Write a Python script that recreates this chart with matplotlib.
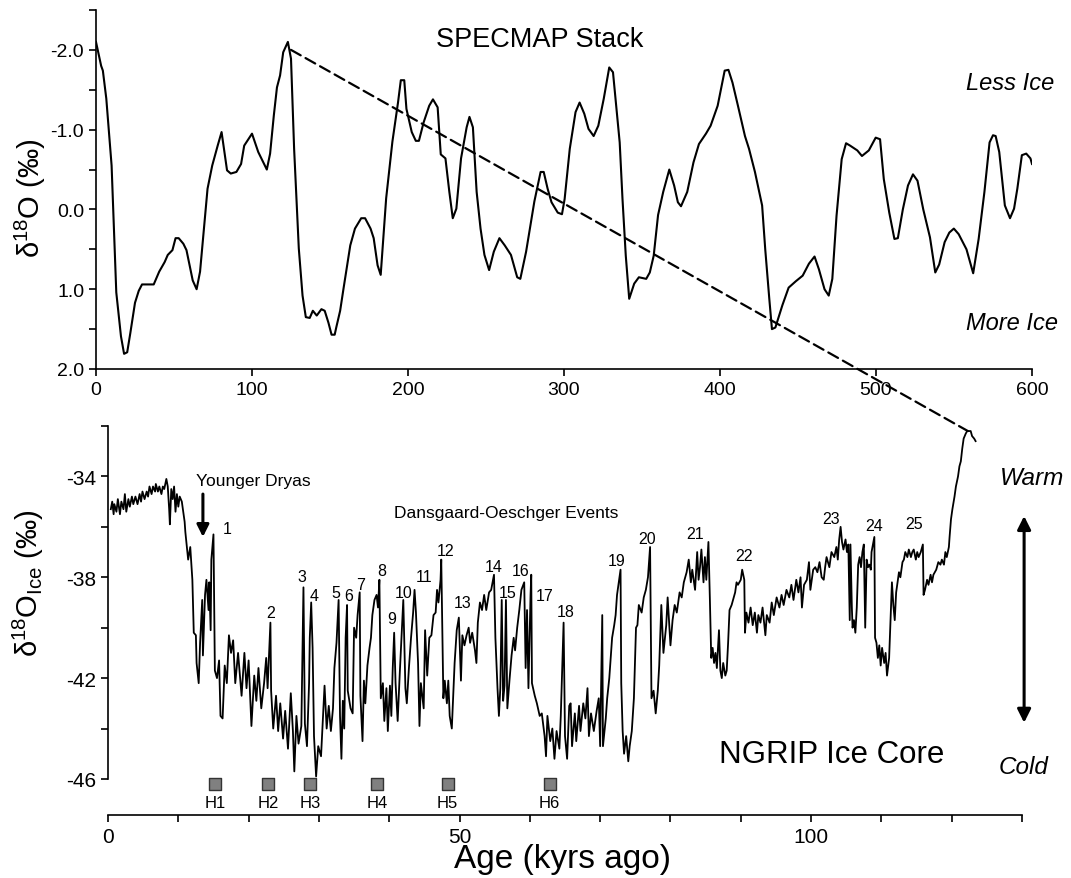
import matplotlib
matplotlib.use('Agg')
import matplotlib.pyplot as plt
from matplotlib.patches import ConnectionPatch
from matplotlib.ticker import FixedLocator, FormatStrFormatter

plt.rcParams['font.family'] = ['Liberation Sans', 'DejaVu Sans']
plt.rcParams['mathtext.fontset'] = 'custom'
plt.rcParams['mathtext.rm'] = 'Liberation Sans'
plt.rcParams['mathtext.it'] = 'Liberation Sans:italic'
plt.rcParams['mathtext.bf'] = 'Liberation Sans:bold'
plt.rcParams['axes.unicode_minus'] = False

# SPECMAP stack (kyr, d18O permil)
spec_age = [0, 3.3, 4.4, 6.6, 10, 13, 16, 18, 20, 22, 25, 27.4, 29.5, 37, 40.5, 44, 46, 49, 51, 53,
            56, 58, 62, 64.5, 66.7, 69, 71.5, 74.5, 78, 80.5, 84, 86.4, 90, 93, 95, 100, 104, 109.5,
            111.6, 114, 116, 118, 120, 123, 125, 127, 130, 132.4, 134.5, 137, 139, 141.5, 144.5,
            146.6, 149, 151, 153, 154, 156.5, 158.6, 163, 166, 170, 172.5, 176, 178, 180.5, 182.5,
            186, 190, 193.6, 195.4, 197.6, 199, 202.4, 205, 207, 210, 213.6, 216, 219, 221, 224,
            226.5, 228.7, 231, 234, 237.6, 239.4, 241.6, 244, 246.5, 249, 252, 255, 258.6, 262, 266,
            270, 272, 275.7, 281, 285, 287, 289.5, 292, 296, 298.7, 300.4, 303.7, 307.4, 310, 313,
            315.7, 319, 322, 325.5, 329, 331.4, 333, 335.7, 337.5, 339.6, 341.8, 345, 348, 352.7,
            355, 357.5, 360.3, 363.6, 367.5, 370.6, 373, 375, 379, 383, 386.5, 391, 394, 398.5, 403,
            405.4, 408, 411.5, 416, 418.6, 422.4, 427, 429, 431.6, 433.3, 435.5, 440, 444, 448.6,
            453, 457, 460.6, 463.4, 467, 469.7, 472, 474.7, 478, 480.8, 483.4, 488, 491, 495.4,
            499.8, 502.6, 505, 508.5, 511.8, 514, 517.2, 520.5, 523.7, 526.6, 530.3, 534.6, 538,
            540.5, 544, 547, 549.9, 553, 558, 562.3, 565.8, 569.5, 572.8, 575, 576.7, 579, 582.6,
            585.9, 588.5, 590.6, 593.5, 596.3, 599, 600]
spec_d18o = [-2.1, -1.8, -1.74, -1.39, -0.55, 1.04, 1.59, 1.81, 1.79, 1.55, 1.17, 1.02, 0.94, 0.94,
             0.78, 0.66, 0.57, 0.51, 0.36, 0.36, 0.43, 0.51, 0.89, 1.0, 0.78, 0.28, -0.26, -0.55,
             -0.8, -0.97, -0.49, -0.45, -0.47, -0.57, -0.8, -0.95, -0.72, -0.5, -0.7, -1.18, -1.53,
             -1.68, -1.97, -2.1, -1.89, -0.76, 0.49, 1.08, 1.35, 1.36, 1.27, 1.33, 1.25, 1.27, 1.42,
             1.57, 1.57, 1.48, 1.27, 1.0, 0.45, 0.24, 0.11, 0.11, 0.24, 0.36, 0.7, 0.82, -0.14,
             -0.85, -1.34, -1.62, -1.62, -1.26, -0.97, -0.86, -0.86, -1.09, -1.3, -1.38, -1.28,
             -0.69, -0.64, -0.22, 0.11, -0.01, -0.64, -1.03, -1.16, -1.03, -0.22, 0.24, 0.57, 0.76,
             0.53, 0.36, 0.45, 0.57, 0.85, 0.87, 0.53, -0.1, -0.47, -0.47, -0.26, -0.09, 0.04, 0.06,
             -0.13, -0.76, -1.22, -1.34, -1.2, -1.01, -0.92, -1.05, -1.39, -1.78, -1.72, -1.39,
             -0.84, -0.13, 0.58, 1.12, 0.93, 0.85, 0.87, 0.79, 0.58, 0.07, -0.22, -0.5, -0.3, -0.09,
             -0.04, -0.22, -0.59, -0.82, -0.95, -1.05, -1.3, -1.74, -1.75, -1.59, -1.3, -0.92,
             -0.76, -0.47, -0.05, 0.5, 1.12, 1.5, 1.48, 1.2, 0.98, 0.9, 0.83, 0.68, 0.59, 0.75, 1.0,
             1.08, 0.87, 0.08, -0.63, -0.83, -0.8, -0.74, -0.67, -0.74, -0.9, -0.88, -0.38, 0.04,
             0.37, 0.36, 0.0, -0.3, -0.44, -0.36, 0.0, 0.35, 0.79, 0.69, 0.41, 0.29, 0.24, 0.31,
             0.5, 0.8, 0.37, -0.22, -0.84, -0.93, -0.92, -0.72, -0.05, 0.11, -0.01, -0.26, -0.68,
             -0.7, -0.64, -0.57]

# NGRIP ice core (kyr, d18O permil)
ngrip_age = [0.4, 0.6, 0.8, 0.9, 1.2, 1.4, 1.7, 1.9, 2.2, 2.4, 2.6, 2.9, 3.1, 3.4, 3.6, 3.9, 4.2, 4.5,
             4.7, 4.9, 5.2, 5.5, 5.7, 5.9, 6.2, 6.4, 6.7, 6.8, 7.1, 7.3, 7.6, 7.8, 8.0, 8.3, 8.5, 8.7,
             8.8, 9.0, 9.2, 9.4, 9.6, 9.8, 10.0, 10.2, 10.5, 10.7, 10.9, 11.0, 11.4, 11.7, 12.0, 12.2,
             12.5, 12.6, 12.9, 13.1, 13.4, 13.5, 13.8, 14.0, 14.3, 14.4, 14.6, 14.7, 15.0, 15.2, 15.5,
             15.8, 16.0, 16.3, 16.6, 16.9, 17.2, 17.5, 17.8, 18.1, 18.5, 19.0, 19.4, 19.7, 20.0, 20.4,
             20.8, 21.1, 21.4, 21.8, 22.2, 22.5, 22.7, 23.1, 23.2, 23.5, 23.9, 24.2, 24.5, 24.9, 25.2,
             25.6, 26.0, 26.3, 26.5, 26.8, 27.1, 27.5, 27.8, 28.0, 28.3, 28.6, 28.7, 28.9, 29.1, 29.3,
             29.6, 29.9, 30.3, 30.8, 31.1, 31.4, 31.7, 32.0, 32.2, 32.5, 32.8, 33.0, 33.2, 33.4, 33.6,
             33.8, 34.0, 34.1, 34.5, 34.8, 35.0, 35.3, 35.5, 35.8, 35.9, 36.2, 36.4, 36.6, 36.9, 37.2,
             37.4, 37.6, 37.9, 38.2, 38.4, 38.6, 38.8, 39.1, 39.3, 39.6, 39.8, 40.1, 40.3, 40.5, 40.7,
             40.9, 41.2, 41.5, 41.8, 42.0, 42.3, 42.5, 42.8, 43.1, 43.4, 43.6, 43.8, 44.1, 44.3, 44.5,
             44.9, 45.1, 45.4, 45.7, 46.0, 46.3, 46.6, 46.8, 47.0, 47.3, 47.4, 47.7, 47.9, 48.2, 48.4,
             48.6, 48.9, 49.1, 49.3, 49.6, 49.9, 50.2, 50.4, 50.7, 51.0, 51.3, 51.5, 51.8, 52.2, 52.4,
             52.6, 52.9, 53.2, 53.5, 53.8, 54.2, 54.5, 54.9, 55.1, 55.4, 55.6, 55.8, 56.0, 56.2, 56.4,
             56.6, 56.8, 57.1, 57.4, 57.7, 57.9, 58.2, 58.5, 58.8, 59.2, 59.4, 59.6, 59.8, 60.1, 60.2,
             60.3, 60.7, 61.0, 61.4, 61.7, 62.1, 62.3, 62.5, 62.9, 63.2, 63.5, 63.8, 64.2, 64.4, 64.8,
             65.0, 65.3, 65.6, 65.8, 66.0, 66.4, 66.6, 67.0, 67.2, 67.6, 67.9, 68.2, 68.4, 68.7, 69.1,
             69.5, 69.8, 70.0, 70.3, 70.4, 70.8, 71.0, 71.3, 71.5, 71.7, 72.0, 72.2, 72.4, 72.6, 72.9,
             73.0, 73.2, 73.4, 73.7, 74.0, 74.2, 74.5, 74.8, 75.1, 75.3, 75.5, 75.9, 76.2, 76.5, 76.8,
             77.1, 77.3, 77.6, 77.9, 78.2, 78.4, 78.7, 79.0, 79.4, 79.6, 80.0, 80.3, 80.6, 80.9, 81.3,
             81.6, 81.9, 82.3, 82.6, 82.9, 83.1, 83.5, 83.8, 84.0, 84.2, 84.4, 84.7, 84.9, 85.1, 85.4,
             85.6, 85.8, 86.0, 86.2, 86.4, 86.6, 86.9, 87.1, 87.3, 87.5, 87.8, 88.0, 88.2, 88.4, 88.7,
             88.9, 89.2, 89.4, 89.6, 90.0, 90.2, 90.5, 90.6, 90.8, 91.1, 91.4, 91.7, 92.0, 92.3, 92.5,
             92.8, 93.1, 93.5, 93.7, 94.1, 94.4, 94.7, 95.1, 95.5, 95.8, 96.1, 96.5, 96.9, 97.2, 97.5,
             97.9, 98.2, 98.5, 98.7, 99.0, 99.4, 99.7, 99.9, 100.3, 100.6, 100.9, 101.2, 101.5, 101.8,
             102.0, 102.2, 102.6, 102.9, 103.3, 103.6, 103.8, 104.0, 104.2, 104.4, 104.6, 104.9,
             105.1, 105.3, 105.5, 105.6, 105.8, 105.9, 106.1, 106.3, 106.5, 106.7, 106.9, 107.1,
             107.3, 107.5, 107.7, 107.9, 108.1, 108.3, 108.5, 108.6, 108.8, 109.0, 109.1, 109.3,
             109.5, 109.7, 109.9, 110.1, 110.4, 110.6, 110.8, 111.1, 111.3, 111.5, 111.7, 111.9,
             112.1, 112.3, 112.5, 112.7, 113.0, 113.2, 113.4, 113.7, 113.9, 114.2, 114.4, 114.6,
             114.9, 115.1, 115.3, 115.6, 115.9, 116.0, 116.2, 116.5, 116.7, 117.0, 117.2, 117.4,
             117.8, 118.1, 118.4, 118.6, 118.9, 119.1, 119.3, 119.6, 119.7, 119.9, 120.1, 120.4,
             120.6, 120.9, 121.1, 121.3, 121.5, 121.7, 122.0, 122.2, 122.5, 122.7, 122.9, 123.2, 123.4]
ngrip_d18o = [-35.3, -35.0, -35.5, -35.1, -35.4, -34.9, -35.5, -35.0, -35.3, -34.7, -35.4, -34.9, -35.2,
              -34.8, -35.1, -34.8, -35.1, -34.7, -35.0, -34.6, -34.9, -34.6, -34.8, -34.4, -34.7, -34.4,
              -34.6, -34.3, -34.6, -34.4, -34.7, -34.4, -34.5, -34.1, -34.4, -35.3, -35.9, -34.5, -34.9,
              -34.4, -35.4, -34.7, -35.2, -34.8, -35.0, -35.4, -35.8, -36.2, -37.3, -36.8, -38.1, -40.2,
              -40.3, -41.4, -42.2, -40.6, -38.9, -41.1, -38.7, -38.1, -39.3, -38.2, -40.1, -37.3, -36.3,
              -41.7, -42.0, -41.3, -43.5, -43.6, -41.5, -42.2, -40.3, -41.0, -40.5, -42.2, -41.0, -42.7,
              -41.0, -42.4, -41.3, -43.9, -41.9, -42.9, -41.6, -43.2, -42.2, -41.2, -42.4, -39.8, -42.5,
              -44.0, -42.7, -44.1, -43.0, -44.4, -43.3, -44.8, -42.6, -44.1, -45.7, -43.5, -44.6, -43.9,
              -38.4, -43.8, -44.7, -42.2, -40.4, -39.0, -40.8, -44.3, -45.9, -44.7, -45.1, -42.3, -44.0,
              -43.1, -44.1, -43.2, -41.6, -40.6, -38.9, -43.5, -45.2, -42.9, -44.0, -40.4, -39.1, -42.5,
              -43.2, -43.4, -40.0, -40.4, -39.5, -38.6, -42.7, -44.5, -42.1, -43.0, -41.5, -40.8, -40.4,
              -39.5, -38.9, -38.7, -39.2, -38.1, -42.8, -42.2, -43.7, -42.4, -44.1, -42.3, -43.5, -41.6,
              -40.2, -42.2, -43.7, -41.8, -40.1, -38.9, -42.4, -43.0, -41.6, -40.4, -39.4, -38.5, -39.4,
              -41.4, -43.9, -42.2, -43.2, -40.1, -41.9, -40.4, -40.3, -39.5, -39.4, -38.5, -39.0, -38.1,
              -37.3, -42.8, -42.1, -43.0, -42.1, -43.5, -44.0, -42.7, -41.4, -40.1, -39.6, -42.1, -40.3,
              -40.7, -40.3, -40.0, -40.6, -40.2, -40.9, -41.4, -39.8, -39.0, -39.3, -38.7, -39.3, -38.6,
              -38.5, -37.9, -40.4, -42.4, -43.5, -42.4, -38.9, -42.9, -42.3, -38.9, -43.2, -42.1, -41.1,
              -40.4, -40.9, -40.0, -39.3, -38.5, -38.2, -41.6, -39.3, -42.4, -38.7, -37.9, -42.2, -42.7,
              -43.0, -43.5, -43.4, -44.3, -45.1, -43.5, -44.5, -44.0, -45.2, -44.1, -44.8, -43.5, -39.8,
              -44.3, -45.2, -43.1, -43.0, -44.7, -43.4, -44.5, -43.1, -44.1, -43.0, -43.6, -42.4, -44.3,
              -43.4, -44.1, -43.3, -42.8, -44.7, -39.5, -44.7, -43.6, -42.8, -42.0, -41.2, -40.4, -39.9,
              -39.5, -38.7, -38.3, -37.7, -42.2, -44.1, -45.0, -44.3, -45.3, -44.7, -44.1, -42.8, -40.0,
              -39.9, -39.1, -39.4, -38.8, -38.5, -38.0, -36.8, -42.8, -42.5, -43.4, -42.5, -41.5, -39.1,
              -41.0, -39.9, -38.8, -40.7, -39.7, -39.1, -39.4, -38.6, -38.8, -38.2, -37.8, -37.3, -38.2,
              -37.7, -38.5, -37.0, -38.1, -37.6, -36.9, -38.2, -37.2, -38.1, -36.6, -38.8, -41.2, -40.8,
              -41.4, -41.0, -41.6, -40.1, -41.7, -42.0, -41.4, -41.9, -41.7, -40.6, -39.3, -39.1, -38.9,
              -38.6, -38.2, -38.3, -38.1, -37.7, -38.1, -40.2, -39.4, -39.8, -39.2, -39.9, -39.4, -40.2,
              -39.5, -39.8, -39.2, -40.3, -39.5, -39.8, -39.0, -39.5, -38.8, -39.2, -38.7, -39.1, -38.5,
              -38.8, -38.3, -38.9, -38.1, -38.6, -38.0, -39.2, -38.3, -38.1, -37.4, -38.5, -37.7, -37.6,
              -37.8, -37.4, -38.0, -38.1, -37.6, -37.2, -37.6, -37.0, -37.2, -36.8, -37.3, -36.5, -36.0,
              -36.6, -36.9, -36.5, -37.0, -36.7, -39.7, -36.7, -39.2, -40.0, -39.7, -40.2, -39.2, -37.5,
              -37.2, -37.6, -37.0, -36.7, -40.0, -37.3, -37.6, -37.5, -37.7, -37.0, -36.7, -36.4, -40.4,
              -40.6, -41.2, -40.7, -41.5, -40.8, -41.4, -41.0, -41.9, -41.2, -39.7, -38.2, -39.1, -39.7,
              -38.6, -38.2, -37.8, -38.0, -37.4, -37.3, -37.0, -37.2, -36.9, -37.2, -37.0, -36.9, -37.3,
              -37.0, -37.2, -37.0, -36.7, -38.7, -38.5, -38.1, -38.3, -37.9, -38.2, -37.9, -37.7, -37.4,
              -37.5, -37.3, -37.5, -37.0, -37.2, -36.8, -36.4, -35.7, -35.3, -34.8, -34.4, -34.0, -33.6,
              -33.4, -32.9, -32.5, -32.3, -32.2, -32.2, -32.2, -32.4, -32.5, -32.6]

# Dansgaard-Oeschger event numbers and where their labels sit
do_names = [str(i) for i in range(1, 26)]
do_label_age = [17.0, 23.1, 27.6, 29.3, 32.4, 34.2, 35.9, 38.9, 40.4, 42.0, 45.0, 48.0, 50.4, 54.9,
                56.9, 58.7, 62.1, 65.1, 72.3, 76.7, 83.5, 90.4, 102.9, 108.9, 114.6]
do_label_d18o = [-36.06, -39.4, -37.96, -38.73, -38.6, -38.73, -38.27, -37.74, -39.62, -38.6, -37.96,
                 -36.95, -39.02, -37.56, -38.6, -37.74, -38.73, -39.36, -37.34, -36.48, -36.28, -37.14,
                 -35.66, -35.96, -35.85]

# Heinrich events
h_names = ['H1', 'H2', 'H3', 'H4', 'H5', 'H6']
h_age = [15.2, 22.8, 28.7, 38.3, 48.3, 62.8]

W, H = 1071, 879


def px_box(l, t, r, b):
    return [l / W, 1 - b / H, (r - l) / W, (b - t) / H]


fig = plt.figure(figsize=(W / 100, H / 100), dpi=100)

# ---- top panel: SPECMAP
ax1 = fig.add_axes(px_box(96, 11, 1032, 370))
ax1.plot(spec_age, spec_d18o, color='black', lw=1.5)
ax1.set_xlim(0, 600)
ax1.set_ylim(2.0, -2.5)
ax1.xaxis.set_major_locator(FixedLocator([0, 100, 200, 300, 400, 500, 600]))
ax1.yaxis.set_major_locator(FixedLocator([-2, -1, 0, 1, 2]))
ax1.yaxis.set_minor_locator(FixedLocator([-2.5, -1.5, -0.5, 0.5, 1.5]))
ax1.yaxis.set_major_formatter(FormatStrFormatter('%.1f'))
for s in ['top', 'right']:
    ax1.spines[s].set_visible(False)
for s in ['left', 'bottom']:
    ax1.spines[s].set_linewidth(1.2)
ax1.tick_params(which='both', direction='out', length=5, width=1.2, labelsize=14)
fig.text(540 / W, 1 - 40 / H, 'SPECMAP Stack', ha='center', va='center', fontsize=19.5)
fig.text(1010 / W, 1 - 83 / H, 'Less Ice', ha='center', va='center', fontsize=17, style='italic')
fig.text(1012 / W, 1 - 323 / H, 'More Ice', ha='center', va='center', fontsize=17, style='italic')
fig.text(30 / W, 1 - 198 / H, 'δ$^{18}$O (‰)', rotation=90, ha='center', va='center', fontsize=21)

# ---- bottom panel: NGRIP
ax2 = fig.add_axes(px_box(108, 427, 1022, 816))
ax2.plot(ngrip_age, ngrip_d18o, color='black', lw=1.3)
ax2.set_xlim(0, 130)
ax2.set_ylim(-47.43, -32)
ax2.spines['left'].set_bounds(-46, -32)
ax2.spines['bottom'].set_bounds(0, 130)
for s in ['top', 'right']:
    ax2.spines[s].set_visible(False)
for s in ['left', 'bottom']:
    ax2.spines[s].set_linewidth(1.2)
ax2.xaxis.set_major_locator(FixedLocator([0, 50, 100]))
ax2.xaxis.set_minor_locator(FixedLocator([10, 20, 30, 40, 60, 70, 80, 90, 110, 120, 130]))
ax2.yaxis.set_major_locator(FixedLocator([-46, -42, -38, -34]))
ax2.yaxis.set_minor_locator(FixedLocator([-44, -40, -36, -32]))
ax2.tick_params(which='both', direction='out', length=5, width=1.2, labelsize=15)

# Heinrich events as grey squares under the record
ax2.scatter(h_age, [-46.2] * len(h_age), marker='s', s=65, facecolor='#808080', edgecolor='#333333',
            linewidth=1, clip_on=False, zorder=3)
for name, a in zip(h_names, h_age):
    ax2.text(a, -46.93, name, ha='center', va='center', fontsize=12)

for name, a, v in zip(do_names, do_label_age, do_label_d18o):
    ax2.text(a, v, name, ha='center', va='center', fontsize=11.5)

ax2.text(20.7, -34.17, 'Younger Dryas', ha='center', va='center', fontsize=12.5)
ax2.annotate('', xy=(13.5, -36.4), xytext=(13.5, -34.7),
             arrowprops=dict(arrowstyle='-|>', color='black', lw=2.2, mutation_scale=18,
                             shrinkA=0, shrinkB=0))
ax2.text(56.6, -35.43, 'Dansgaard-Oeschger Events', ha='center', va='center', fontsize=12.5)
ax2.text(102.9, -45.03, 'NGRIP Ice Core', ha='center', va='center', fontsize=22.5)
fig.text(1032 / W, 1 - 479 / H, 'Warm', ha='center', va='center', fontsize=17.5, style='italic')
fig.text(1024 / W, 1 - 768 / H, 'Cold', ha='center', va='center', fontsize=17.5, style='italic')
ax2.annotate('', xy=(130.3, -35.57), xytext=(130.3, -43.77), annotation_clip=False,
             arrowprops=dict(arrowstyle='<|-|>', color='black', lw=2.2, mutation_scale=20,
                             shrinkA=0, shrinkB=0))
fig.text(28 / W, 1 - 583 / H, 'δ$^{18}$O$_{\\mathrm{Ice}}$ (‰)', rotation=90, ha='center', va='center',
         fontsize=21)
fig.text(563 / W, 1 - 860 / H, 'Age (kyrs ago)', ha='center', va='center', fontsize=24)

# dashed link between the last interglacial peak in both records
link = ConnectionPatch(xyA=(125, -2.0), coordsA=ax1.transData, xyB=(122.3, -32.2), coordsB=ax2.transData,
                       linestyle=(0, (5, 2.5)), lw=1.6, color='black')
fig.add_artist(link)

fig.savefig('out.png', dpi=100)
